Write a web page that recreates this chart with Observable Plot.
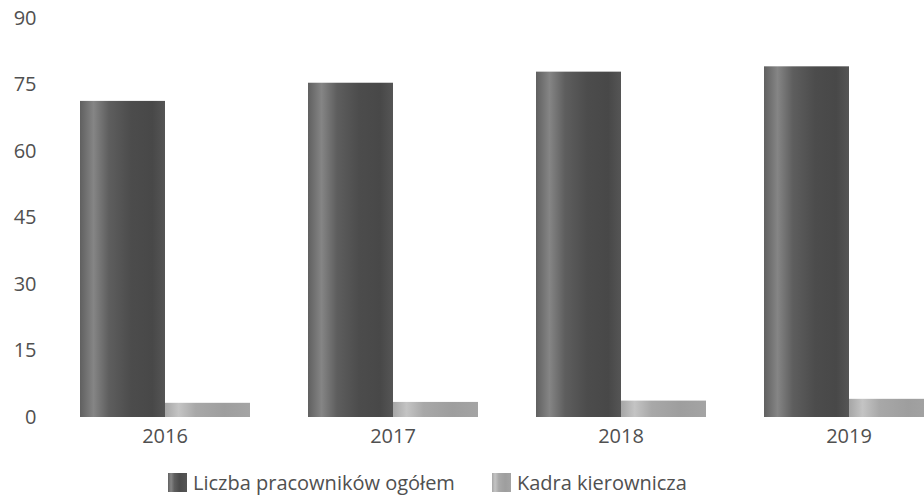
<!DOCTYPE html>
<html>
<head>
<meta charset="utf-8">
<script src="https://cdn.jsdelivr.net/npm/d3@7"></script>
<script src="https://cdn.jsdelivr.net/npm/@observablehq/plot@0.6"></script>
<style>
  html, body { margin: 0; padding: 0; background: #fff; }
  #chart { position: relative; width: 924px; height: 497px; overflow: hidden; font-family: "Open Sans", sans-serif; color: #505050; }
  #legend { position: absolute; left: 168px; top: 472px; display: flex; align-items: center; font-size: 20px; color: #505050; line-height: 21px; }
  .item { display: flex; align-items: center; margin-right: 37px; }
  .sw { width: 19px; height: 19px; margin-right: 6px; }
</style>
</head>
<body>
<div id="chart"></div>
<script>
const years = ["2016", "2017", "2018", "2019"];
const seriesNames = ["Liczba pracowników ogółem", "Kadra kierownicza"];
const totalValues = [71.3, 75.4, 77.9, 79.1];
const managerValues = [3.2, 3.4, 3.7, 4.1];
const yTicks = [0, 15, 30, 45, 60, 75, 90];

const data = [];
years.forEach((y, i) => {
  data.push({year: y, series: seriesNames[0], value: totalValues[i]});
  data.push({year: y, series: seriesNames[1], value: managerValues[i]});
});

const plot = Plot.plot({
  width: 924,
  height: 450,
  marginTop: 18,
  marginBottom: 33,
  marginLeft: 51,
  marginRight: 0,
  style: {fontFamily: "Open Sans, sans-serif", fontSize: "20px", color: "#505050", background: "transparent"},
  fx: {domain: years, range: [50, 963], paddingInner: 0.25, paddingOuter: 0.125, axis: "bottom", tickSize: 0, tickPadding: 11, label: null},
  x: {domain: seriesNames, padding: 0, axis: null},
  y: {domain: [0, 90], ticks: yTicks, tickSize: 0, tickPadding: 43, label: null},
  color: {domain: seriesNames, range: ["url(#gDark)", "url(#gLight)"]},
  marks: [
    Plot.barY(data, {fx: "year", x: "series", y: "value", fill: "series"})
  ]
});

const svgNS = "http://www.w3.org/2000/svg";
const defs = document.createElementNS(svgNS, "defs");
function grad(id, stops) {
  const g = document.createElementNS(svgNS, "linearGradient");
  g.setAttribute("id", id);
  g.setAttribute("x1", "0"); g.setAttribute("x2", "1"); g.setAttribute("y1", "0"); g.setAttribute("y2", "0");
  stops.forEach(([o, c]) => {
    const s = document.createElementNS(svgNS, "stop");
    s.setAttribute("offset", o);
    s.setAttribute("stop-color", c);
    g.appendChild(s);
  });
  defs.appendChild(g);
}
grad("gDark", [[0, "#606060"], [0.16, "#858585"], [0.34, "#5e5e5e"], [0.6, "#4c4c4c"], [0.85, "#484848"], [1, "#555"]]);
grad("gLight", [[0, "#a6a6a6"], [0.16, "#c4c4c4"], [0.36, "#a8a8a8"], [0.7, "#9e9e9e"], [1, "#a4a4a4"]]);
plot.insertBefore(defs, plot.firstChild);

const chart = document.getElementById("chart");
chart.appendChild(plot);

const legend = document.createElement("div");
legend.id = "legend";
seriesNames.forEach((name, i) => {
  const item = document.createElement("div");
  item.className = "item";
  const sw = document.createElement("div");
  sw.className = "sw";
  sw.style.background = i === 0
    ? "linear-gradient(to right, #606060 0%, #858585 16%, #5e5e5e 34%, #4c4c4c 60%, #555 100%)"
    : "linear-gradient(to right, #a6a6a6 0%, #c4c4c4 16%, #a8a8a8 36%, #9e9e9e 70%, #a4a4a4 100%)";
  const t = document.createElement("span");
  t.textContent = name;
  item.appendChild(sw);
  item.appendChild(t);
  legend.appendChild(item);
});
chart.appendChild(legend);
</script>
</body>
</html>
